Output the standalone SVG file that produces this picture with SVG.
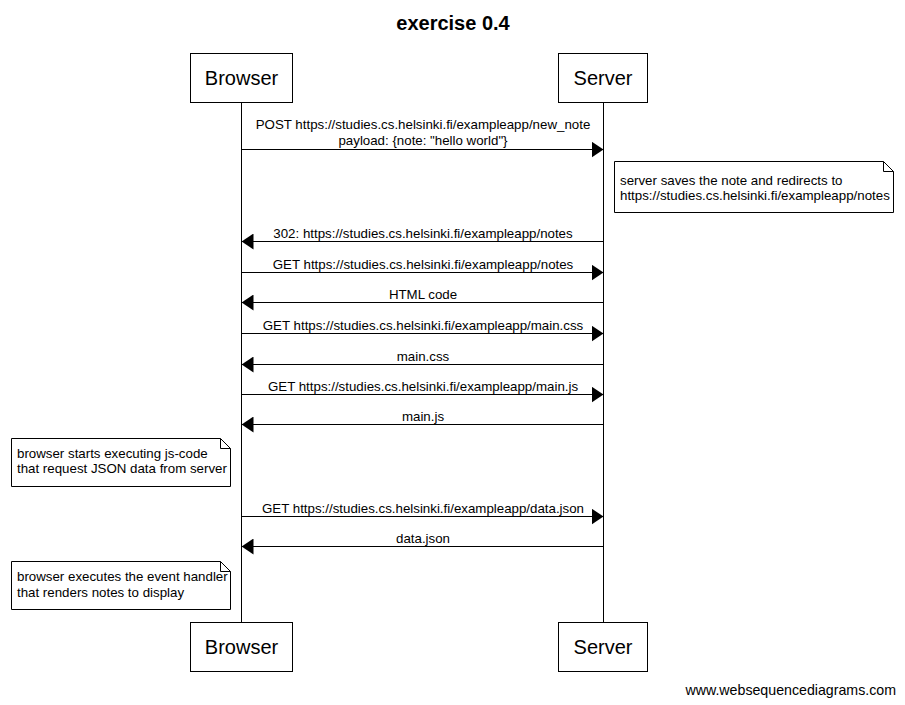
<svg xmlns="http://www.w3.org/2000/svg" width="905" height="705" viewBox="0 0 905 705">
  <style>
    text { font-family: "Liberation Sans", Arial, sans-serif; fill: #000; }
    .actor rect { fill: #fff; stroke: #000; stroke-width: 1; }
    .actor text { font-size: 20px; text-anchor: middle; }
    .life { stroke: #000; stroke-width: 1; }
    .msg line { stroke: #000; stroke-width: 1; }
    .msg text { font-size: 13.3px; text-anchor: middle; }
    .note path { fill: #fff; stroke: #000; stroke-width: 1; }
    .note text { font-size: 13.3px; }
    .title { font-size: 20px; font-weight: bold; text-anchor: middle; }
    .footer { font-size: 14.2px; text-anchor: end; }
  </style>
  <defs>
    <marker id="arrow" viewBox="0 0 12 16" refX="12" refY="8" markerWidth="12" markerHeight="16" markerUnits="userSpaceOnUse" orient="auto">
      <path d="M0,0 L12,8 L0,16 Z" fill="#000"/>
    </marker>
  </defs>
  <rect width="905" height="705" fill="#fff"/>
  <text class="title" x="453" y="30">exercise 0.4</text>

  <!-- lifelines -->
  <g id="lifelines">
    <line class="life" x1="241.5" y1="102" x2="241.5" y2="622"/>
    <line class="life" x1="603.5" y1="102" x2="603.5" y2="622"/>
  </g>

  <g id="browser-top" class="actor">
    <rect x="190.5" y="53.5" width="102" height="49"/>
    <text x="241.5" y="85">Browser</text>
  </g>
  <g id="server-top" class="actor">
    <rect x="558.5" y="53.5" width="89" height="49"/>
    <text x="603" y="85">Server</text>
  </g>
  <g id="browser-bottom" class="actor">
    <rect x="190.5" y="622.5" width="102" height="49"/>
    <text x="241.5" y="654">Browser</text>
  </g>
  <g id="server-bottom" class="actor">
    <rect x="558.5" y="622.5" width="89" height="49"/>
    <text x="603" y="654">Server</text>
  </g>

  <!-- messages -->
  <g id="connectors" class="msg">
    <line x1="241.5" y1="149.5" x2="603.5" y2="149.5" marker-end="url(#arrow)"/>
    <text x="423" y="129">POST https://studies.cs.helsinki.fi/exampleapp/new_note</text>
    <text x="423" y="145">payload: {note: "hello world"}</text>

    <line x1="603.5" y1="241.5" x2="241.5" y2="241.5" marker-end="url(#arrow)"/>
    <text x="423" y="238">302: https://studies.cs.helsinki.fi/exampleapp/notes</text>

    <line x1="241.5" y1="272.5" x2="603.5" y2="272.5" marker-end="url(#arrow)"/>
    <text x="423" y="269">GET https://studies.cs.helsinki.fi/exampleapp/notes</text>

    <line x1="603.5" y1="302.5" x2="241.5" y2="302.5" marker-end="url(#arrow)"/>
    <text x="423" y="299">HTML code</text>

    <line x1="241.5" y1="333.5" x2="603.5" y2="333.5" marker-end="url(#arrow)"/>
    <text x="423" y="330">GET https://studies.cs.helsinki.fi/exampleapp/main.css</text>

    <line x1="603.5" y1="364.5" x2="241.5" y2="364.5" marker-end="url(#arrow)"/>
    <text x="423" y="361">main.css</text>

    <line x1="241.5" y1="394.5" x2="603.5" y2="394.5" marker-end="url(#arrow)"/>
    <text x="423" y="391">GET https://studies.cs.helsinki.fi/exampleapp/main.js</text>

    <line x1="603.5" y1="424.5" x2="241.5" y2="424.5" marker-end="url(#arrow)"/>
    <text x="423" y="421">main.js</text>

    <line x1="241.5" y1="516.5" x2="603.5" y2="516.5" marker-end="url(#arrow)"/>
    <text x="423" y="513">GET https://studies.cs.helsinki.fi/exampleapp/data.json</text>

    <line x1="603.5" y1="546.5" x2="241.5" y2="546.5" marker-end="url(#arrow)"/>
    <text x="423" y="543">data.json</text>
  </g>

  <!-- notes -->
  <g id="note-server" class="note">
    <path d="M614.5,161.5 H883.5 L893.5,171.5 V212.5 H614.5 Z M883.5,161.5 V171.5 H893.5"/>
    <text x="620" y="185">server saves the note and redirects to</text>
    <text x="620" y="200">https://studies.cs.helsinki.fi/exampleapp/notes</text>
  </g>
  <g id="note-js" class="note">
    <path d="M11.5,438.5 H220.5 L230.5,448.5 V486.5 H11.5 Z M220.5,438.5 V448.5 H230.5"/>
    <text x="17" y="458">browser starts executing js-code</text>
    <text x="17" y="473">that request JSON data from server</text>
  </g>
  <g id="note-render" class="note">
    <path d="M11.5,561.5 H220.5 L230.5,571.5 V609.5 H11.5 Z M220.5,561.5 V571.5 H230.5"/>
    <text x="17" y="581">browser executes the event handler</text>
    <text x="17" y="597">that renders notes to display</text>
  </g>

  <text class="footer" x="896" y="695">www.websequencediagrams.com</text>
</svg>
